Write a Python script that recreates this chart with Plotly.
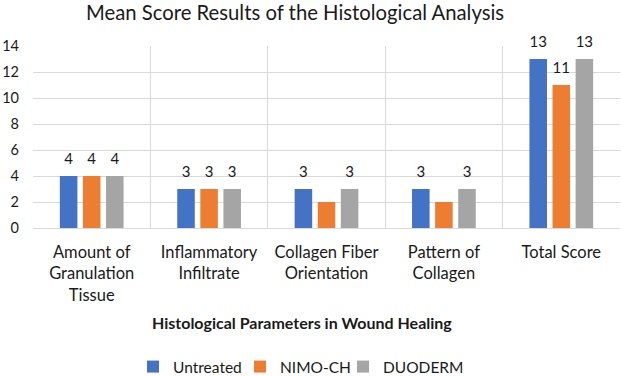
import plotly.graph_objects as go

categories = ["Amount of<br>Granulation<br>Tissue", "Inflammatory<br>Infiltrate",
              "Collagen Fiber<br>Orientation", "Pattern of<br>Collagen", "Total Score"]
untreated = [4, 3, 3, 3, 13]
nimo_ch = [4, 3, 2, 2, 11]
duoderm = [4, 3, 3, 3, 13]
# which data labels are shown in the reference
untreated_show = [True, True, True, True, True]
nimo_show = [True, True, False, False, True]
duoderm_show = [True, True, True, True, True]
y_ticks = [0, 2, 4, 6, 8, 10, 12, 14]

FONT = "Lato"
DARK = "#1a1a1a"

def labels(vals, show):
    return [str(v) if s else "" for v, s in zip(vals, show)]

series = [
    ("Untreated", untreated, untreated_show, "#4472C4", "legend"),
    ("NIMO-CH", nimo_ch, nimo_show, "#ED7D31", "legend2"),
    ("DUODERM", duoderm, duoderm_show, "#A5A5A5", "legend3"),
]

fig = go.Figure()
for name, vals, show, color, leg in series:
    fig.add_trace(go.Bar(
        name=name, x=categories, y=vals, marker_color=color,
        marker_line_width=0, legend=leg,
    ))
for name, vals, show, color, leg in series:
    fig.add_trace(go.Scatter(
        x=categories, y=vals, mode="markers+text",
        text=labels(vals, show), textposition="top center",
        marker=dict(size=11, color="rgba(0,0,0,0)"),
        textfont=dict(family=FONT, size=15, color=DARK),
        showlegend=False, cliponaxis=False, hoverinfo="skip",
    ))

def legend_at(left_px):
    return dict(orientation="h", xref="container", x=left_px / 621, xanchor="left",
                yref="container", y=1 - 367 / 376, yanchor="middle",
                font=dict(family=FONT, size=15.5, color=DARK),
                itemwidth=30, bgcolor="rgba(0,0,0,0)")

fig.update_layout(
    width=621, height=376,
    margin=dict(l=33, r=1, t=46, b=148),
    paper_bgcolor="white", plot_bgcolor="white",
    barmode="group", bargap=0.41, bargroupgap=0.24,
    scattermode="group", scattergap=0.41,
    title=dict(text="Mean Score Results of the Histological Analysis",
               xref="container", x=295 / 621, xanchor="center",
               yref="container", y=1 - 12.5 / 376, yanchor="middle",
               font=dict(family=FONT, size=20.3, color=DARK)),
    font=dict(family=FONT, color=DARK),
    xaxis=dict(
        tickson="boundaries", showgrid=True, gridcolor="#d9d9d9", gridwidth=1,
        ticks="", showline=True, linecolor="#d9d9d9", automargin=False,
        tickfont=dict(family=FONT, size=16.5, color=DARK),
        ticklabelstandoff=9,
    ),
    yaxis=dict(
        range=[0, 14], tickvals=y_ticks, showgrid=True, gridcolor="#d9d9d9",
        zeroline=False, showline=False, ticks="", automargin=False,
        tickfont=dict(family=FONT, size=14.5, color=DARK),
        ticklabelstandoff=13,
    ),
    legend=legend_at(133),
    legend2=legend_at(240),
    legend3=legend_at(343),
    annotations=[dict(
        text="<b>Histological Parameters in Wound Healing</b>",
        xref="paper", yref="paper", x=(302 - 33) / 587, y=-(322 - 228) / 182,
        xanchor="center", yanchor="middle", showarrow=False,
        font=dict(family=FONT, size=16, color=DARK),
    )],
)

fig.write_html("out.html", config={"displayModeBar": False},
               post_script="document.body.style.margin='0';")
